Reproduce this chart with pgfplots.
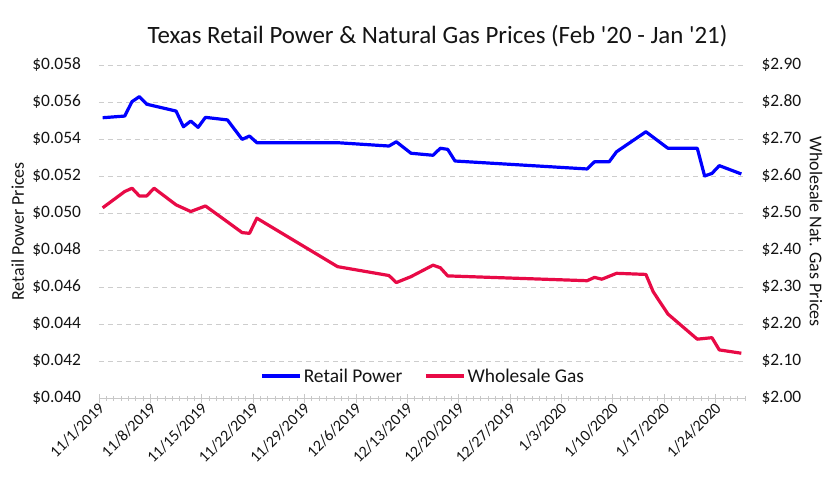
\documentclass[border=0pt]{standalone}
\usepackage{pgfplots}
\pgfplotsset{compat=1.18}
\usepackage{fontspec}
\setmainfont{Carlito}
\definecolor{rp}{RGB}{0,0,255}
\definecolor{wg}{RGB}{232,10,70}
\definecolor{gridc}{RGB}{205,205,205}
\definecolor{axc}{RGB}{200,200,200}
\definecolor{txt}{RGB}{20,20,20}
\pgfplotstableread{
d v
0 0.05515
3 0.05524
4 0.05602
5 0.05629
6 0.05588
10 0.05551
11 0.05466
12 0.05497
13 0.05463
14 0.05517
17 0.05503
19 0.05398
20 0.05416
21 0.05380
32 0.05380
39 0.05362
40 0.05385
42 0.05323
45 0.05312
46 0.05350
47 0.05344
48 0.05281
66 0.05238
67 0.05277
69 0.05277
70 0.05331
74 0.05439
77 0.05350
81 0.05350
82 0.05200
83 0.05214
84 0.05256
87 0.05211
}\retail
\pgfplotstableread{
d v
0 2.514
3 2.558
4 2.567
5 2.546
6 2.546
7 2.567
10 2.522
12 2.504
14 2.519
17 2.476
19 2.447
20 2.445
21 2.486
32 2.355
39 2.331
40 2.312
42 2.328
45 2.359
46 2.352
47 2.330
66 2.317
67 2.326
68 2.321
70 2.337
74 2.334
75 2.287
77 2.227
81 2.159
83 2.163
84 2.130
87 2.121
}\gas
\begin{document}
\begin{tikzpicture}
\useasboundingbox (-99bp,-88bp) rectangle (729bp,398bp);
\pgfplotsset{
  common/.style={
    at={(0,0)}, anchor=south west, scale only axis,
    width=646bp, height=333bp,
    xmin=-0.5, xmax=87.5,
    scaled y ticks=false,
    yticklabel style={font=\fontsize{17.5}{20}\selectfont, text=txt},
  }
}
\begin{axis}[common,
  ymin=0.040, ymax=0.058,
  axis x line*=bottom, axis y line*=left,
  x axis line style={-, draw=axc, line width=1bp},
  y axis line style={draw=none},
  xtick={-0.5,6.5,...,83.5},
  xticklabels={11/1/2019,11/8/2019,11/15/2019,11/22/2019,11/29/2019,12/6/2019,12/13/2019,12/20/2019,12/27/2019,1/3/2020,1/10/2020,1/17/2020,1/24/2020},
  minor xtick={-0.5,0.5,...,87.5},
  tick align=center,
  major tick length=9bp, minor tick length=5bp,
  x tick style={draw=axc, line width=0.8bp},
  y tick style={draw=none},
  xticklabel style={rotate=45, anchor=east, xshift=3bp, yshift=-4bp, font=\fontsize{16}{19}\selectfont, text=txt},
  ytick={0.040,0.042,0.044,0.046,0.048,0.050,0.052,0.054,0.056,0.058},
  yticklabels={\$0.040,\$0.042,\$0.044,\$0.046,\$0.048,\$0.050,\$0.052,\$0.054,\$0.056,\$0.058},
  yticklabel style={xshift=-10bp},
  ymajorgrids,
  major grid style={draw=gridc, dash pattern=on 5bp off 4bp, line width=0.8bp},
  ylabel={Retail Power Prices},
  ylabel style={at={(axis description cs:-0.126,0.5)}, anchor=center, font=\fontsize{18}{21}\selectfont, text=txt},
  title={Texas Retail Power \& Natural Gas Prices (Feb \textquotesingle 20 - Jan \textquotesingle 21)},
  title style={at={(axis description cs:0.524,1.069)}, anchor=center, font=\fontsize{25}{29}\selectfont, text=txt},
  legend style={at={(axis description cs:0.502,0.066)}, anchor=center, draw=none, fill=none,
    font=\fontsize{19.5}{22}\selectfont, text=txt, legend columns=2,
    /tikz/every even column/.append style={column sep=20bp}},
  legend image code/.code={\draw[#1] (0bp,0bp) -- (38bp,0bp);},
]
\addplot[rp, line width=3.2bp, line join=round] table[x=d, y=v] {\retail};
\addlegendentry{Retail Power}
\addlegendimage{wg, line width=3.2bp}
\addlegendentry{Wholesale Gas}
\end{axis}
\begin{axis}[common,
  ymin=2.0, ymax=2.9,
  axis x line=none, axis y line*=right,
  y axis line style={draw=none},
  y tick style={draw=none},
  ytick={2.0,2.1,2.2,2.3,2.4,2.5,2.6,2.7,2.8,2.9},
  yticklabels={\$2.00,\$2.10,\$2.20,\$2.30,\$2.40,\$2.50,\$2.60,\$2.70,\$2.80,\$2.90},
  yticklabel style={xshift=13bp},
  ylabel={Wholesale Nat. Gas Prices},
  ylabel style={at={(axis description cs:1.11,0.5)}, anchor=center, rotate=180, font=\fontsize{18}{21}\selectfont, text=txt},
]
\addplot[wg, line width=3.2bp, line join=round] table[x=d, y=v] {\gas};
\end{axis}
\end{tikzpicture}
\end{document}
